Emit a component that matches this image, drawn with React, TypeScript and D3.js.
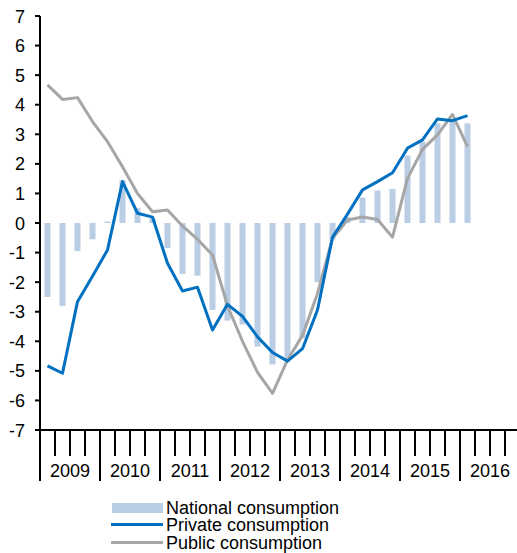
import React from "react";
import * as d3 from "d3";

const years = ["2009", "2010", "2011", "2012", "2013", "2014", "2015", "2016"];
const quarters = years.flatMap((y) => ["Q1", "Q2", "Q3", "Q4"].map((q) => `${y}${q}`));
const yTicks = [-7, -6, -5, -4, -3, -2, -1, 0, 1, 2, 3, 4, 5, 6, 7];

const national = [
  -2.5, -2.8, -0.95, -0.55, 0.05, 1.45, 0.5, 0.15, -0.85, -1.72, -1.78, -2.94, -3.3, -3.43,
  -4.18, -4.78, -4.6, -3.9, -2.0, -0.55, 0.2, 0.86, 1.1, 1.15, 2.28, 2.75, 3.37, 3.5, 3.37,
];
const privateC = [
  -4.83, -5.08, -2.66, -1.8, -0.91, 1.4, 0.33, 0.2, -1.36, -2.3, -2.17, -3.62, -2.75, -3.16,
  -3.85, -4.38, -4.67, -4.25, -2.94, -0.48, 0.3, 1.12, 1.4, 1.7, 2.53, 2.81, 3.52, 3.46, 3.63,
];
const publicC = [
  4.67, 4.18, 4.24, 3.43, 2.75, 1.9, 1.0, 0.38, 0.44, -0.1, -0.55, -1.08, -2.8, -4.0, -5.05,
  -5.76, -4.63, -3.8, -2.38, -0.52, 0.1, 0.2, 0.12, -0.48, 1.51, 2.49, 2.98, 3.67, 2.58,
];
const legendLabels = ["National consumption", "Private consumption", "Public consumption"];

const W = 517;
const H = 553;
const FONT = "'Liberation Sans', Arial, sans-serif";
const BAR = "#B9CDE5";
const PRIV = "#0070C0";
const PUB = "#A6A6A6";

export default function App() {
  const x = d3.scaleBand<string>().domain(quarters).range([40, 520]);
  const y = d3.scaleLinear().domain([-7, 7]).range([430, 16]);
  const cx = (i: number) => (x(quarters[i]) as number) + x.bandwidth() / 2;
  const line = d3
    .line<number>()
    .x((_, i) => cx(i))
    .y((d) => y(d));
  const barW = 6;

  return (
    <svg
      width={W}
      height={H}
      style={{ position: "absolute", left: 0, top: 0, background: "#fff" }}
      fontFamily={FONT}
    >
      {national.map((v, i) => (
        <rect
          key={i}
          x={cx(i) - barW / 2}
          y={y(Math.max(0, v))}
          width={barW}
          height={Math.abs(y(v) - y(0))}
          fill={BAR}
        />
      ))}
      <path d={line(publicC) || ""} fill="none" stroke={PUB} strokeWidth={3} strokeLinejoin="round" />
      <path d={line(privateC) || ""} fill="none" stroke={PRIV} strokeWidth={3} strokeLinejoin="round" />

      {/* y axis */}
      <line x1={40} x2={40} y1={16} y2={481} stroke="#000" strokeWidth={2} />
      {yTicks.map((t) => (
        <g key={t}>
          <line x1={35} x2={40} y1={y(t)} y2={y(t)} stroke="#000" strokeWidth={2} />
          <text x={25} y={y(t) + 6.5} textAnchor="end" fontSize={18} fill="#000">
            {t}
          </text>
        </g>
      ))}

      {/* x axis */}
      <line x1={40} x2={520} y1={430} y2={430} stroke="#000" strokeWidth={2} />
      {quarters.map((q, i) => {
        const xx = x(q) as number;
        const isYear = i % 4 === 0;
        return i === 0 ? null : (
          <line key={q} x1={xx} x2={xx} y1={430} y2={isYear ? 481 : 456} stroke="#000" strokeWidth={2} />
        );
      })}
      {years.map((yr) => (
        <text
          key={yr}
          x={(x(`${yr}Q1`) as number) + 2 * x.bandwidth()}
          y={477}
          textAnchor="middle"
          fontSize={18}
          fill="#000"
        >
          {yr}
        </text>
      ))}

      {/* legend */}
      <rect x={112} y={503} width={51} height={10} fill={BAR} />
      <line x1={111} x2={163} y1={524.5} y2={524.5} stroke={PRIV} strokeWidth={3} />
      <line x1={111} x2={163} y1={542.5} y2={542.5} stroke={PUB} strokeWidth={3} />
      {legendLabels.map((l, i) => (
        <text key={l} x={166} y={513.5 + i * 17.5} fontSize={18} fill="#000">
          {l}
        </text>
      ))}
    </svg>
  );
}
